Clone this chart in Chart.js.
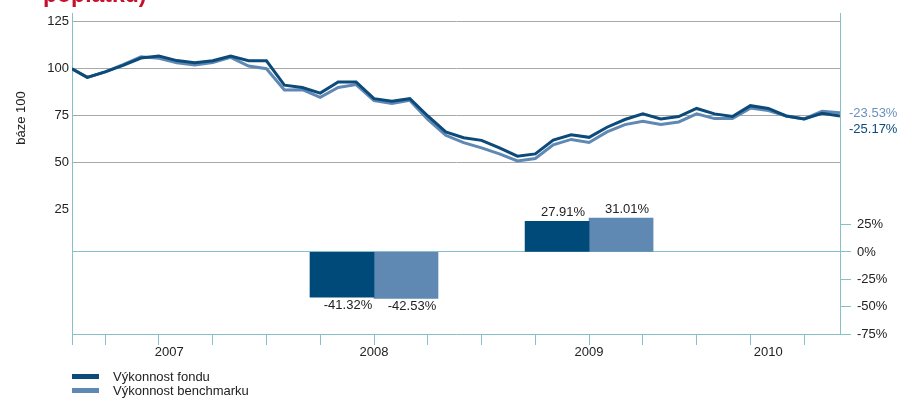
<!DOCTYPE html>
<html>
<head>
<meta charset="utf-8">
<script src="https://cdn.jsdelivr.net/npm/chart.js@4"></script>
<style>
  html, body { margin: 0; padding: 0; background: #fff; }
  #wrap { position: relative; width: 899px; height: 401px; overflow: hidden; font-family: "Liberation Sans", Arial, sans-serif; }
  #title { position: absolute; left: 43px; top: -17px; font-size: 23px; line-height: 23px; font-weight: bold; color: #c8102e; white-space: nowrap; }
  #legend { position: absolute; left: 72px; top: 370px; font-size: 13px; color: #222; }
  .item { height: 14px; line-height: 14px; white-space: nowrap; }
  .swatch { display: inline-block; width: 27px; height: 5px; margin-right: 14px; vertical-align: middle; position: relative; top: -1px; }
</style>
</head>
<body>
<div id="wrap">
  <div id="title">poplatku)</div>
  <canvas id="perfChart" width="899" height="401"></canvas>
  <div id="legend"></div>
</div>
<script>
// months since 1 Jan 2007 (month-end values)
const months = [1.15, 2, 3, 4, 5, 6, 7, 8, 9, 10, 11, 12,
  13, 14, 15, 16, 17, 18, 19, 20, 21, 22, 23, 24,
  25, 26, 27, 28, 29, 30, 31, 32, 33, 34, 35, 36,
  37, 38, 39, 40, 41, 42, 43, 44];
const fund = [100, 95.4, 98.3, 101.8, 105.7, 106.7, 104.3, 103.2, 104.2, 106.7, 104.2, 104.2,
  91.2, 90.0, 87.0, 92.9, 92.9, 84.0, 82.6, 84.0, 74.8, 66.3, 63.2, 61.8,
  57.8, 53.4, 54.6, 62.0, 64.8, 63.4, 68.8, 72.9, 75.9, 73.2, 74.5, 78.8,
  75.9, 74.5, 80.3, 78.8, 74.8, 73.2, 76.2, 74.83];
const bench = [100, 95.4, 98.3, 102.2, 106.4, 105.5, 103.2, 102.0, 103.3, 106.0, 101.4, 100.0,
  88.6, 88.8, 84.7, 90.0, 91.5, 83.0, 81.5, 83.1, 72.9, 64.5, 60.6, 57.8,
  54.6, 50.8, 52.1, 59.4, 62.3, 60.7, 66.3, 70.2, 72.0, 70.2, 71.6, 75.9,
  73.4, 73.4, 79.0, 77.7, 74.8, 73.2, 77.3, 76.47];

// yearly performance bars
const barYears = [2008, 2009];
const fundYearly = [-41.32, 27.91];
const benchYearly = [-42.53, 31.01];

// total performance labels at the end of the lines
const fundTotal = -25.17;
const benchTotal = -23.53;

const years = ['2007', '2008', '2009', '2010'];
const leftTicks = [25, 50, 75, 100, 125];
const rightTicks = [-75, -50, -25, 0, 25];
const seriesNames = ['Výkonnost fondu', 'Výkonnost benchmarku'];

const FUND_COLOR = '#0b4a79';
const BENCH_COLOR = '#5f88b4';
const TEAL = '#86c1c7';
const FONT = '"Liberation Sans", Arial, sans-serif';

const toMonth = y => (y - 2007) * 12 + 6;

// year labels, value labels, axis title
const extraText = {
    id: 'extraText',
    afterDatasetsDraw(chart) {
        const ctx = chart.ctx;
        const x = chart.scales.x;
        const area = chart.chartArea;
        ctx.save();
        ctx.font = '13px ' + FONT;
        ctx.fillStyle = '#222';
        ctx.textAlign = 'center';
        ctx.textBaseline = 'middle';

        // year labels centred in visible part of each year
        years.forEach((y, i) => {
            const a = Math.max(i * 12, x.min);
            const b = Math.min((i + 1) * 12, x.max);
            ctx.fillText(y, x.getPixelForValue((a + b) / 2), area.bottom + 18);
        });

        // bar labels
        [0, 1].forEach(k => {
            const meta = chart.getDatasetMeta(2 + k);
            meta.data.forEach((el, i) => {
                const v = chart.data.datasets[2 + k].data[i].y;
                const ty = v < 0 ? el.y + 8 : el.y - 9;
                ctx.fillText(v.toFixed(2) + '%', el.x + 6, ty);
            });
        });

        // end labels, higher line first
        const fm = chart.getDatasetMeta(0).data;
        const bm = chart.getDatasetMeta(1).data;
        const fy = fm[fm.length - 1].y, by = bm[bm.length - 1].y;
        const top = Math.min(fy, by);
        const labels = by <= fy
            ? [[benchTotal, '#6b90bd'], [fundTotal, FUND_COLOR]]
            : [[fundTotal, FUND_COLOR], [benchTotal, '#6b90bd']];
        ctx.textAlign = 'left';
        labels.forEach((l, i) => {
            ctx.fillStyle = l[1];
            ctx.fillText(l[0].toFixed(2) + '%', area.right + 9, top + 1 + i * 16);
        });

        // y axis title
        ctx.translate(21, 118);
        ctx.rotate(-Math.PI / 2);
        ctx.textAlign = 'center';
        ctx.fillStyle = '#222';
        ctx.fillText('báze 100', 0, 0);
        ctx.restore();
    }
};

const ctxPerf = document.getElementById('perfChart').getContext('2d');
const perfChart = new Chart(ctxPerf, {
    type: 'line',
    data: {
        datasets: [
            {
                label: seriesNames[0],
                data: months.map((m, i) => ({ x: m, y: fund[i] })),
                borderColor: FUND_COLOR,
                borderWidth: 3,
                pointRadius: 0,
                tension: 0,
                yAxisID: 'y'
            },
            {
                label: seriesNames[1],
                data: months.map((m, i) => ({ x: m, y: bench[i] })),
                borderColor: BENCH_COLOR,
                borderWidth: 3,
                pointRadius: 0,
                tension: 0,
                yAxisID: 'y'
            },
            {
                type: 'bar',
                label: seriesNames[0],
                data: barYears.map((y, i) => ({ x: toMonth(y), y: fundYearly[i] })),
                backgroundColor: '#004a7a',
                barThickness: 64,
                yAxisID: 'y2'
            },
            {
                type: 'bar',
                label: seriesNames[1],
                data: barYears.map((y, i) => ({ x: toMonth(y), y: benchYearly[i] })),
                backgroundColor: '#5f88b3',
                barThickness: 64,
                yAxisID: 'y2'
            }
        ]
    },
    options: {
        responsive: false,
        animation: false,
        layout: { padding: { top: 12, left: 0, right: 0, bottom: 0 } },
        plugins: { legend: { display: false }, tooltip: { enabled: false } },
        scales: {
            x: {
                type: 'linear',
                offset: false,
                min: months[0],
                max: months[months.length - 1],
                afterBuildTicks: s => {
                    const t = [{ value: s.min }];
                    for (let q = 3; q < s.max; q += 3) t.push({ value: q });
                    s.ticks = t;
                },
                afterFit: s => { s.height = 67; },
                ticks: { display: false },
                grid: { drawOnChartArea: false, drawTicks: true, tickLength: 11, tickColor: TEAL, offset: false },
                border: { color: TEAL, width: 1 }
            },
            y: {
                position: 'left',
                min: -41.4,
                max: 129.25,
                afterBuildTicks: s => { s.ticks = leftTicks.map(v => ({ value: v })); },
                afterFit: s => { s.width = 72; },
                ticks: { color: '#222', padding: 3, font: { family: FONT, size: 13 } },
                grid: {
                    drawTicks: false,
                    color: c => (c.tick && c.tick.value >= 50) ? '#a9a9ad' : 'rgba(0,0,0,0)'
                },
                border: { color: TEAL, width: 1 }
            },
            y2: {
                position: 'right',
                min: -75,
                max: 217.7,
                afterBuildTicks: s => { s.ticks = rightTicks.map(v => ({ value: v })); },
                afterFit: s => { s.width = 59; },
                ticks: { color: '#222', padding: 6, font: { family: FONT, size: 13 }, callback: v => v + '%' },
                grid: {
                    drawTicks: true,
                    tickLength: 11,
                    tickColor: TEAL,
                    color: c => (c.tick && c.tick.value === 0) ? TEAL : 'rgba(0,0,0,0)'
                },
                border: { color: TEAL, width: 1 }
            }
        }
    },
    plugins: [extraText]
});

// HTML legend
const legendColors = [FUND_COLOR, BENCH_COLOR];
document.getElementById('legend').innerHTML = seriesNames.map((n, i) =>
    `<div class="item"><span class="swatch" style="background:${legendColors[i]}"></span>${n}</div>`
).join('');
</script>
</body>
</html>
